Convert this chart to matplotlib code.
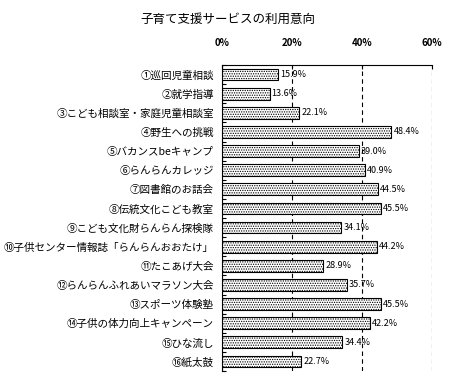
import matplotlib
matplotlib.use("Agg")
import matplotlib.pyplot as plt
import numpy as np

plt.rcParams['font.family'] = ['Noto Sans CJK JP', 'DejaVu Sans']
plt.rcParams['hatch.color'] = '#666666'
plt.rcParams['hatch.linewidth'] = 0.6

title = "子育て支援サービスの利用意向"
categories = ["①巡回児童相談", "②就学指導", "③こども相談室・家庭児童相談室", "④野生への挑戦",
              "⑤バカンスbeキャンプ", "⑥らんらんカレッジ", "⑦図書館のお話会", "⑧伝統文化こども教室",
              "⑨こども文化財らんらん探検隊", "⑩子供センター情報誌「らんらんおおたけ」", "⑪たこあげ大会",
              "⑫らんらんふれあいマラソン大会", "⑬スポーツ体験塾", "⑭子供の体力向上キャンペーン",
              "⑮ひな流し", "⑯紙太鼓"]
values = [15.9, 13.6, 22.1, 48.4, 39.0, 40.9, 44.5, 45.5, 34.1, 44.2, 28.9, 35.7, 45.5, 42.2, 34.4, 22.7]
xticks = [0, 20, 40, 60]
xticklabels = ["0%", "20%", "40%", "60%"]

fig = plt.figure(figsize=(4.56, 3.88), dpi=100)
ax = fig.add_axes([222/456, 1-371/388, 210/456, 306/388])

n = len(categories)
y = np.arange(n)
ax.barh(y, values, height=0.62, color='white', edgecolor='black', linewidth=0.8,
        hatch='.......', zorder=3)
for yi, v in zip(y, values):
    ax.text(v + 0.6, yi, f"{v:.1f}%", va='center', ha='left', fontsize=6.5, zorder=4)

ax.set_xlim(0, 60)
ax.set_ylim(n - 0.5, -0.5)
ax.set_yticks(y)
ax.set_yticklabels(categories, fontsize=7.6)
ax.set_yticks(np.arange(n + 1) - 0.5, minor=True)
ax.tick_params(axis='y', which='major', length=0, pad=6)
ax.tick_params(axis='y', which='minor', direction='in', length=3, width=0.8)

ax.xaxis.tick_top()
ax.set_xticks(xticks)
ax.set_xticklabels(xticklabels, fontsize=7, fontweight='bold')
ax.tick_params(axis='x', which='major', direction='in', length=3, pad=12)

ax.xaxis.grid(True, linestyle=(0, (4, 3)), color='black', linewidth=0.8)
ax.set_axisbelow(True)

for s in ['right', 'bottom']:
    ax.spines[s].set_visible(False)
ax.spines['top'].set_linewidth(0.8)
ax.spines['left'].set_linewidth(0.8)

fig.text(228/456, 1-19/388, title, ha='center', va='center', fontsize=9)

fig.savefig("out.png", dpi=100)
